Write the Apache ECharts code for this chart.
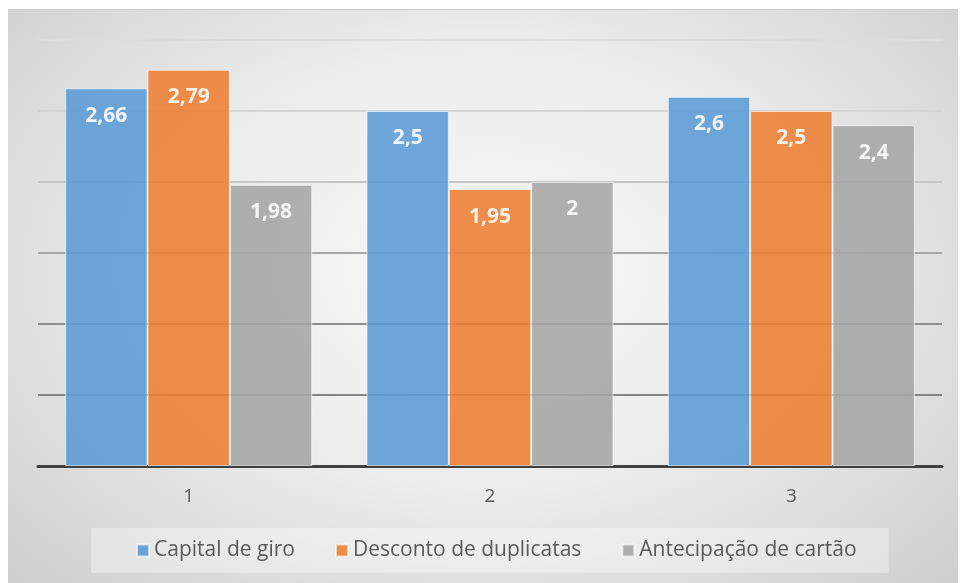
<!DOCTYPE html>
<html>
<head>
<meta charset="utf-8">
<script src="https://cdn.jsdelivr.net/npm/echarts@6/dist/echarts.min.js"></script>
<style>
  html, body { margin: 0; padding: 0; background: #ffffff; }
  #wrap { position: relative; width: 960px; height: 583px; overflow: hidden; }
  #bg { position: absolute; left: 8px; top: 9px; width: 950px; height: 574px;
        background: radial-gradient(ellipse 75% 85% at 50% 45%, #f7f7f7 0%, #ececec 45%, #d6d6d6 80%, #c9c9c9 100%);
        border-top: 1px solid #cfcfcf; }
  #main { position: absolute; left: 0; top: 0; width: 960px; height: 583px; }
</style>
</head>
<body>
<div id="wrap">
  <div id="bg"></div>
  <div id="main"></div>
</div>
<script>
const categories = ['1', '2', '3'];
const seriesNames = ['Capital de giro', 'Desconto de duplicatas', 'Antecipação de cartão'];
const capitalDeGiro = [2.66, 2.5, 2.6];
const descontoDuplicatas = [2.79, 1.95, 2.5];
const antecipacaoCartao = [1.98, 2, 2.4];
const colors = ['#5B9BD5', '#ED7D31', '#A5A5A5'];

const chart = echarts.init(document.getElementById('main'), null, { renderer: 'canvas' });
const FONT = '"Open Sans", "Noto Sans", sans-serif';

function makeSeries(name, data, color) {
  return {
    name: name,
    type: 'bar',
    data: data,
    barGap: '0%',
    barCategoryGap: '18%',
    itemStyle: { color: color, opacity: 0.88, borderColor: 'rgba(255,255,255,0.7)', borderWidth: 1 },
    label: {
      show: true,
      position: 'insideTop',
      distance: 17,
      color: '#ffffff',
      fontFamily: FONT,
      fontWeight: 'bold',
      fontSize: 21,
      formatter: p => String(p.value).replace('.', ',')
    },
    emphasis: { disabled: true }
  };
}

chart.setOption({
  backgroundColor: 'transparent',
  animation: false,
  color: colors,
  grid: { left: 38, right: 18, top: 40, bottom: 117 },
  legend: {
    data: seriesNames,
    bottom: 10,
    left: 91,
    icon: 'rect',
    itemWidth: 12,
    itemHeight: 12,
    itemGap: 40,
    padding: [12, 32, 12, 45],
    backgroundColor: 'rgba(255,255,255,0.35)',
    textStyle: { color: '#595959', fontSize: 21, fontFamily: FONT }
  },
  xAxis: {
    type: 'category',
    data: categories,
    axisLine: { show: true, lineStyle: { color: '#404040', width: 3 } },
    axisTick: { show: false },
    axisLabel: { color: '#595959', fontSize: 19, fontFamily: FONT, margin: 21 },
    splitLine: { show: false }
  },
  yAxis: {
    type: 'value',
    min: 0,
    max: 3,
    interval: 0.5,
    axisLine: { show: false },
    axisTick: { show: false },
    axisLabel: { show: false },
    splitLine: {
      show: true,
      lineStyle: { width: 2, color: ['#404040', '#858585', '#8f8f8f', '#a8a8a8', '#c6c6c6', '#d4d4d4', '#dcdcdc'] }
    }
  },
  series: [
    makeSeries(seriesNames[0], capitalDeGiro, colors[0]),
    makeSeries(seriesNames[1], descontoDuplicatas, colors[1]),
    makeSeries(seriesNames[2], antecipacaoCartao, colors[2])
  ]
});
</script>
</body>
</html>
